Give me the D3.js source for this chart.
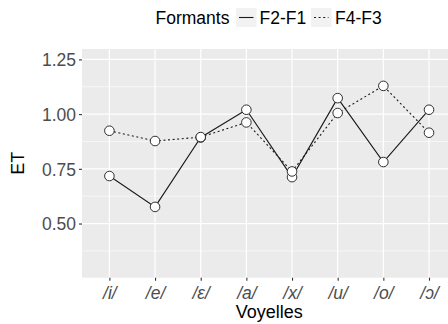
<!DOCTYPE html>
<html>
<head>
<meta charset="utf-8">
<script src="https://cdn.jsdelivr.net/npm/d3@7"></script>
<style>
  html, body { margin: 0; padding: 0; background: #fff; overflow: hidden; }
  svg { display: block; font-family: "Liberation Sans", Arial, sans-serif; }
</style>
</head>
<body>
<svg id="chart" width="448" height="324"></svg>
<script>
// Vowel categories and standard deviation (ET) per formant pair
const voyelles = ["/i/", "/e/", "/ɛ/", "/a/", "/x/", "/u/", "/o/", "/ɔ/"];
const f2f1 = [0.717, 0.576, 0.893, 1.020, 0.712, 1.073, 0.781, 1.020];
const f4f3 = [0.924, 0.877, 0.895, 0.962, 0.738, 1.005, 1.129, 0.915];
const yTicks = [0.50, 0.75, 1.00, 1.25];
const yMinor = [0.375, 0.625, 0.875, 1.125];
const yLimits = [0.3, 1.25];
const seriesNames = ["F2-F1", "F4-F3"];

const svg = d3.select("#chart");
const panel = { left: 82, right: 456.4, top: 49, bottom: 277.7 };

const x = d3.scalePoint().domain(voyelles).range([panel.left, panel.right]).padding(0.6);
const span = yLimits[1] - yLimits[0];
const y = d3.scaleLinear()
  .domain([yLimits[0] - 0.05 * span, yLimits[1] + 0.05 * span])
  .range([panel.bottom, panel.top]);

// panel background
svg.append("rect")
  .attr("x", panel.left).attr("y", panel.top)
  .attr("width", panel.right - panel.left).attr("height", panel.bottom - panel.top)
  .attr("fill", "#EBEBEB");

const grid = svg.append("g");
grid.selectAll(".minor").data(yMinor).join("line")
  .attr("x1", panel.left).attr("x2", panel.right)
  .attr("y1", d => y(d)).attr("y2", d => y(d))
  .attr("stroke", "#fff").attr("stroke-width", 0.6);
grid.selectAll(".majory").data(yTicks).join("line")
  .attr("x1", panel.left).attr("x2", panel.right)
  .attr("y1", d => y(d)).attr("y2", d => y(d))
  .attr("stroke", "#fff").attr("stroke-width", 1.2);
grid.selectAll(".majorx").data(voyelles).join("line")
  .attr("y1", panel.top).attr("y2", panel.bottom)
  .attr("x1", d => x(d)).attr("x2", d => x(d))
  .attr("stroke", "#fff").attr("stroke-width", 1.2);

// axes
const yAxis = svg.append("g")
  .attr("transform", `translate(${panel.left},0)`)
  .call(d3.axisLeft(y).tickValues(yTicks).tickFormat(d3.format(".2f")).tickSize(3).tickPadding(3));
const xAxis = svg.append("g")
  .attr("transform", `translate(0,${panel.bottom})`)
  .call(d3.axisBottom(x).tickSize(3).tickPadding(4));
[yAxis, xAxis].forEach(a => {
  a.select(".domain").remove();
  a.selectAll(".tick line").attr("stroke", "#333").attr("stroke-width", 1.1);
  a.selectAll(".tick text").attr("fill", "#4D4D4D").style("font-size", "17.5px")
    .style("font-family", "'Liberation Sans', Arial, sans-serif");
});
xAxis.selectAll(".tick text").style("font-style", "italic").attr("dy", "0.8em");
yAxis.selectAll(".tick text").attr("dy", "0.36em");

// axis titles
svg.append("text")
  .attr("x", (panel.left + panel.right) / 2).attr("y", 318)
  .attr("text-anchor", "middle").attr("fill", "#000").style("font-size", "18px")
  .text("Voyelles");
svg.append("text")
  .attr("transform", `translate(24,${(panel.top + panel.bottom) / 2}) rotate(-90)`)
  .attr("text-anchor", "middle").attr("fill", "#000").style("font-size", "18px")
  .text("ET");

// series
const series = [
  { name: seriesNames[0], values: f2f1, dash: null },
  { name: seriesNames[1], values: f4f3, dash: "2,2.6" }
];
const line = d3.line().x((d, i) => x(voyelles[i])).y(d => y(d));
series.forEach(s => {
  svg.append("path")
    .datum(s.values)
    .attr("d", line)
    .attr("fill", "none")
    .attr("stroke", "#1a1a1a")
    .attr("stroke-width", 1.1)
    .attr("stroke-dasharray", s.dash);
});
series.forEach(s => {
  svg.append("g").selectAll("circle").data(s.values).join("circle")
    .attr("cx", (d, i) => x(voyelles[i]))
    .attr("cy", d => y(d))
    .attr("r", 4.8)
    .attr("fill", "#fff")
    .attr("stroke", "#1a1a1a")
    .attr("stroke-width", 0.9);
});

// legend on top
const legend = svg.append("g");
legend.append("text")
  .attr("x", 155.5).attr("y", 24).attr("fill", "#000").style("font-size", "17.5px")
  .text("Formants");
const keyX = [236, 311];
const labelX = [259.5, 335];
series.forEach((s, i) => {
  legend.append("rect")
    .attr("x", keyX[i]).attr("y", 8).attr("width", 20.5).attr("height", 19)
    .attr("fill", "#F2F2F2");
  legend.append("line")
    .attr("x1", keyX[i] + 3).attr("x2", keyX[i] + 17.5)
    .attr("y1", 17.5).attr("y2", 17.5)
    .attr("stroke", "#1a1a1a").attr("stroke-width", 1.1)
    .attr("stroke-dasharray", s.dash);
  legend.append("text")
    .attr("x", labelX[i]).attr("y", 24).attr("fill", "#000").style("font-size", "17.5px")
    .text(s.name);
});
</script>
</body>
</html>
